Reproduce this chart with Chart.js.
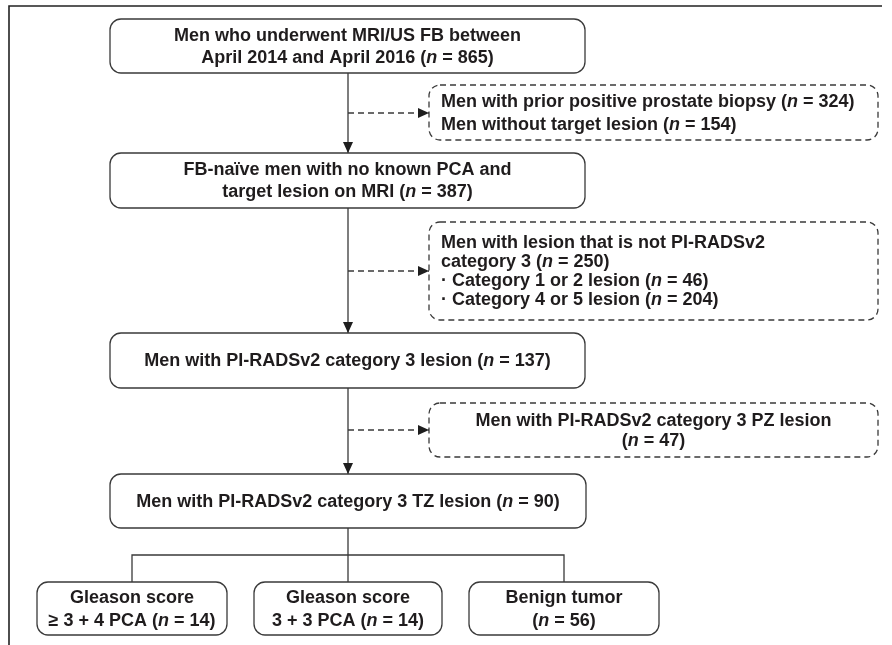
<!DOCTYPE html>
<html>
<head>
<meta charset="utf-8">
<script src="https://cdn.jsdelivr.net/npm/chart.js@4/dist/chart.umd.min.js"></script>
<style>
  html, body { margin: 0; padding: 0; background: #fff; }
  #wrap { width: 892px; height: 645px; position: relative; }
</style>
</head>
<body>
<div id="wrap"><canvas id="flow"></canvas></div>
<script>
// counts shown in the boxes
const mainCounts = [865, 387, 137, 90];
const excludedCounts = [[324, 154], [250, 46, 204], [47]];
const outcomeCounts = [14, 14, 56];

// box texts, {k} is replaced by "n = count"
const mainLines = [
    ['Men who underwent MRI/US FB between', 'April 2014 and April 2016 ({0})'],
    ['FB-naïve men with no known PCA and', 'target lesion on MRI ({0})'],
    ['Men with PI-RADSv2 category 3 lesion ({0})'],
    ['Men with PI-RADSv2 category 3 TZ lesion ({0})']
];
const excludedLines = [
    ['Men with prior positive prostate biopsy ({0})', 'Men without target lesion ({1})'],
    ['Men with lesion that is not PI-RADSv2', 'category 3 ({0})', '\u00B7 Category 1 or 2 lesion ({1})', '\u00B7 Category 4 or 5 lesion ({2})'],
    ['Men with PI-RADSv2 category 3 PZ lesion', '({0})']
];
const outcomeLines = [
    ['Gleason score', '\u2265 3 + 4 PCA ({0})'],
    ['Gleason score', '3 + 3 PCA ({0})'],
    ['Benign tumor', '({0})']
];

// layout, in the units of the hidden scales (1 unit = 1 px)
const mainBoxes = [
    {x0: 110, x1: 585, y0: 19, y1: 73, lh: 22},
    {x0: 110, x1: 585, y0: 153, y1: 208, lh: 22},
    {x0: 110, x1: 585, y0: 333, y1: 388, lh: 22},
    {x0: 110, x1: 586, y0: 474, y1: 528, lh: 22}
];
const excludedBoxes = [
    {x0: 429, x1: 878, y0: 85, y1: 140, lh: 23, align: 'left'},
    {x0: 429, x1: 878, y0: 222, y1: 320, lh: 19, align: 'left'},
    {x0: 429, x1: 878, y0: 403, y1: 457, lh: 20, align: 'center'}
];
const outcomeBoxes = [
    {x0: 37, x1: 227, y0: 582, y1: 635, lh: 23},
    {x0: 254, x1: 442, y0: 582, y1: 635, lh: 23},
    {x0: 469, x1: 659, y0: 582, y1: 635, lh: 23}
];
const spineX = 348;
const branchY = 555;
const frame = {left: 9, top: 6, right: 882, bottom: 645};

const lineColor = '#3a3a3a';
const textColor = '#1f1c1d';
const fontSize = 18;
const fontFamily = '"Liberation Sans", Arial, Helvetica, sans-serif';

const mid = (b) => (b.x0 + b.x1) / 2;

// connectors
const datasets = [];
const addLine = (pts, opts) => {
    datasets.push(Object.assign({
        data: pts.map(p => ({x: p[0], y: p[1]})),
        showLine: true,
        pointRadius: 0,
        borderColor: lineColor,
        borderWidth: 1.3,
        fill: false,
        tension: 0
    }, opts || {}));
};

// frame of the figure
addLine([[frame.right, frame.top], [frame.left, frame.top], [frame.left, frame.bottom]], {borderColor: '#222', borderWidth: 1.6});

for (let i = 0; i < mainBoxes.length - 1; i++) {
    addLine([[spineX, mainBoxes[i].y1], [spineX, mainBoxes[i + 1].y0]], {arrow: true});
}
excludedBoxes.forEach((b) => {
    const y = Math.round((b.y0 + b.y1) / 2);
    addLine([[spineX, y], [b.x0, y]], {arrow: true, borderDash: [6, 4]});
});
const last = mainBoxes[mainBoxes.length - 1];
addLine([[spineX, last.y1], [spineX, outcomeBoxes[1].y0]]);
addLine([[mid(outcomeBoxes[0]), outcomeBoxes[0].y0], [mid(outcomeBoxes[0]), branchY],
         [mid(outcomeBoxes[2]), branchY], [mid(outcomeBoxes[2]), outcomeBoxes[2].y0]]);

const fillCounts = (line, counts) =>
    line.replace(/\{(\d)\}/g, (m, k) => '\u0001 = ' + counts[+k]);

const drawRich = (ctx, line, x, y, align) => {
    const parts = line.split('\u0001');
    const segs = [];
    parts.forEach((p, i) => {
        if (i > 0) segs.push({t: 'n', it: true});
        if (p) segs.push({t: p, it: false});
    });
    const fontN = `bold ${fontSize}px ${fontFamily}`;
    const fontI = `italic bold ${fontSize}px ${fontFamily}`;
    let w = 0;
    segs.forEach(s => { ctx.font = s.it ? fontI : fontN; s.w = ctx.measureText(s.t).width; w += s.w; });
    let cx = align === 'left' ? x : x - w / 2;
    segs.forEach(s => {
        ctx.font = s.it ? fontI : fontN;
        ctx.fillText(s.t, cx, y);
        cx += s.w;
    });
};

const flowPlugin = {
    id: 'flowBoxes',
    afterDatasetsDraw(chart) {
        const ctx = chart.ctx;
        const sx = chart.scales.x, sy = chart.scales.y;

        // arrow heads
        chart.data.datasets.forEach((ds) => {
            if (!ds.arrow) return;
            const n = ds.data.length;
            const a = ds.data[n - 2], b = ds.data[n - 1];
            const px = sx.getPixelForValue(b.x), py = sy.getPixelForValue(b.y);
            const ang = Math.atan2(py - sy.getPixelForValue(a.y), px - sx.getPixelForValue(a.x));
            const len = 11, half = 5;
            ctx.save();
            ctx.translate(px, py);
            ctx.rotate(ang);
            ctx.beginPath();
            ctx.moveTo(0, 0);
            ctx.lineTo(-len, -half);
            ctx.lineTo(-len, half);
            ctx.closePath();
            ctx.fillStyle = '#1e1e1e';
            ctx.fill();
            ctx.restore();
        });

        const drawBox = (b, lines, counts, dashed) => {
            const x0 = sx.getPixelForValue(b.x0), x1 = sx.getPixelForValue(b.x1);
            const y0 = sy.getPixelForValue(b.y0), y1 = sy.getPixelForValue(b.y1);
            ctx.save();
            ctx.beginPath();
            ctx.roundRect(x0, y0, x1 - x0, y1 - y0, 11);
            ctx.fillStyle = '#fff';
            ctx.fill();
            ctx.setLineDash(dashed ? [6, 4] : []);
            ctx.lineWidth = 1.3;
            ctx.strokeStyle = lineColor;
            ctx.stroke();
            ctx.setLineDash([]);
            ctx.fillStyle = textColor;
            ctx.textBaseline = 'middle';
            ctx.textAlign = 'left';
            const cy = (y0 + y1) / 2;
            const startY = cy - (lines.length - 1) * b.lh / 2;
            lines.forEach((ln, i) => {
                const tx = b.align === 'left' ? x0 + 12 : (x0 + x1) / 2;
                drawRich(ctx, fillCounts(ln, counts), tx, startY + i * b.lh + 1, b.align);
            });
            ctx.restore();
        };

        mainBoxes.forEach((b, i) => drawBox(b, mainLines[i], [mainCounts[i]], false));
        excludedBoxes.forEach((b, i) => drawBox(b, excludedLines[i], excludedCounts[i], true));
        outcomeBoxes.forEach((b, i) => drawBox(b, outcomeLines[i], [outcomeCounts[i]], false));
    }
};

new Chart(document.getElementById('flow'), {
    type: 'scatter',
    data: {datasets: datasets},
    options: {
        responsive: true,
        maintainAspectRatio: false,
        animation: false,
        events: [],
        layout: {padding: 0},
        plugins: {legend: {display: false}, tooltip: {enabled: false}},
        scales: {
            x: {type: 'linear', min: 0, max: 892, display: false},
            y: {type: 'linear', min: 0, max: 645, reverse: true, display: false}
        }
    },
    plugins: [flowPlugin]
});
</script>
</body>
</html>
